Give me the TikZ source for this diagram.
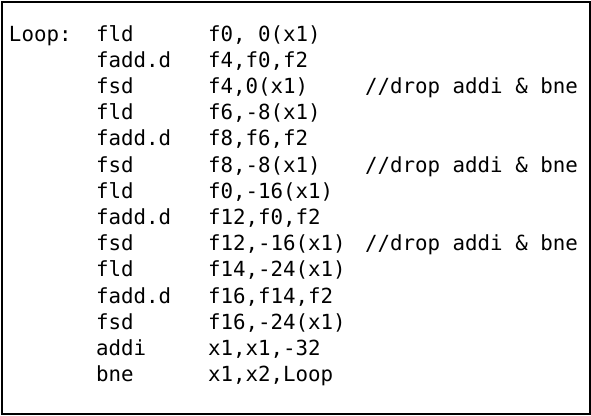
\documentclass[tikz,border=0pt]{standalone}
\usepackage{fontspec}
\setmonofont{DejaVu Sans Mono}
\begin{document}
\begin{tikzpicture}[x=1pt,y=-1pt,
  code/.style={anchor=base west,inner sep=0pt,outer sep=0pt,font=\ttfamily\fontsize{20.8}{24}\selectfont}]
\useasboundingbox (0,0) rectangle (591,415);
\node[draw=black,line width=1.6pt,minimum width=588.5pt,minimum height=412.5pt,inner sep=0pt,anchor=north west] (frame) at (0.9,0.9) {};
\def\cA{9}\def\cB{96}\def\cC{208}\def\cD{365}
\def\rowy#1{41+26.2*#1}
\node[code] (la) at (\cA,{\rowy{0}}) {Loop:};
\node[code] (o0) at (\cB,{\rowy{0}}) {fld};
\node[code] (a0) at (\cC,{\rowy{0}}) {f0, 0(x1)};
\node[code] (o1) at (\cB,{\rowy{1}}) {fadd.d};
\node[code] (a1) at (\cC,{\rowy{1}}) {f4,f0,f2};
\node[code] (o2) at (\cB,{\rowy{2}}) {fsd};
\node[code] (a2) at (\cC,{\rowy{2}}) {f4,0(x1)};
\node[code] (c2) at (\cD,{\rowy{2}}) {//drop addi \& bne};
\node[code] (o3) at (\cB,{\rowy{3}}) {fld};
\node[code] (a3) at (\cC,{\rowy{3}}) {f6,-8(x1)};
\node[code] (o4) at (\cB,{\rowy{4}}) {fadd.d};
\node[code] (a4) at (\cC,{\rowy{4}}) {f8,f6,f2};
\node[code] (o5) at (\cB,{\rowy{5}}) {fsd};
\node[code] (a5) at (\cC,{\rowy{5}}) {f8,-8(x1)};
\node[code] (c5) at (\cD,{\rowy{5}}) {//drop addi \& bne};
\node[code] (o6) at (\cB,{\rowy{6}}) {fld};
\node[code] (a6) at (\cC,{\rowy{6}}) {f0,-16(x1)};
\node[code] (o7) at (\cB,{\rowy{7}}) {fadd.d};
\node[code] (a7) at (\cC,{\rowy{7}}) {f12,f0,f2};
\node[code] (o8) at (\cB,{\rowy{8}}) {fsd};
\node[code] (a8) at (\cC,{\rowy{8}}) {f12,-16(x1)};
\node[code] (c8) at (\cD,{\rowy{8}}) {//drop addi \& bne};
\node[code] (o9) at (\cB,{\rowy{9}}) {fld};
\node[code] (a9) at (\cC,{\rowy{9}}) {f14,-24(x1)};
\node[code] (o10) at (\cB,{\rowy{10}}) {fadd.d};
\node[code] (a10) at (\cC,{\rowy{10}}) {f16,f14,f2};
\node[code] (o11) at (\cB,{\rowy{11}}) {fsd};
\node[code] (a11) at (\cC,{\rowy{11}}) {f16,-24(x1)};
\node[code] (o12) at (\cB,{\rowy{12}}) {addi};
\node[code] (a12) at (\cC,{\rowy{12}}) {x1,x1,-32};
\node[code] (o13) at (\cB,{\rowy{13}}) {bne};
\node[code] (a13) at (\cC,{\rowy{13}}) {x1,x2,Loop};
\end{tikzpicture}
\end{document}
